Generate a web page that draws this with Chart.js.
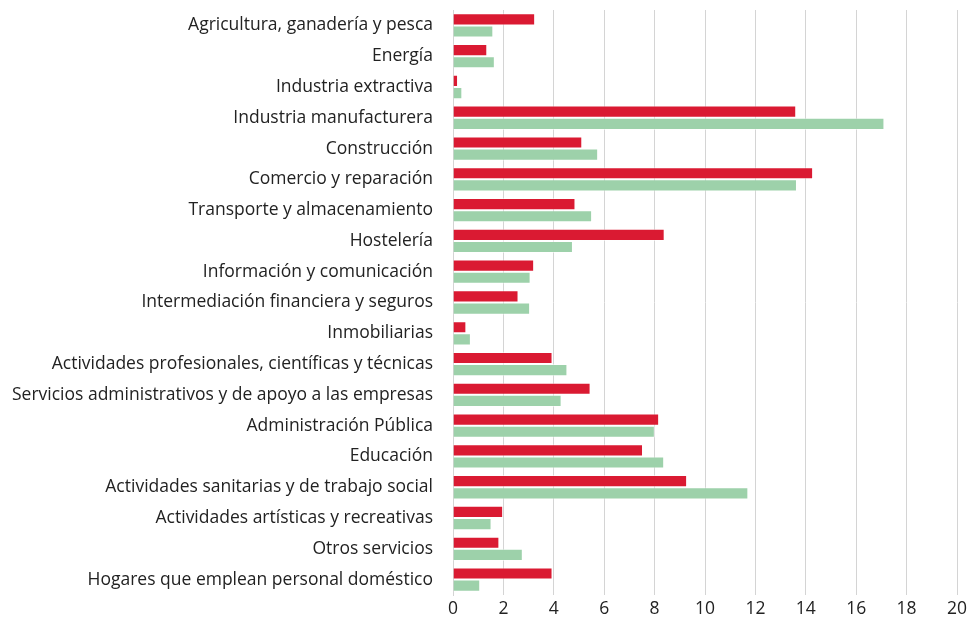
<!DOCTYPE html>
<html>
<head>
<meta charset="utf-8">
<script src="https://cdn.jsdelivr.net/npm/chart.js@4/dist/chart.umd.min.js"></script>
<style>
  html, body { margin: 0; padding: 0; background: #fff; }
  #wrap { width: 967px; height: 632px; }
</style>
</head>
<body>
<div id="wrap"><canvas id="myChart"></canvas></div>
<script>
const categories = [
    'Agricultura, ganadería y pesca',
    'Energía',
    'Industria extractiva',
    'Industria manufacturera',
    'Construcción',
    'Comercio y reparación',
    'Transporte y almacenamiento',
    'Hostelería',
    'Información y comunicación',
    'Intermediación financiera y seguros',
    'Inmobiliarias',
    'Actividades profesionales, científicas y técnicas',
    'Servicios administrativos y de apoyo a las empresas',
    'Administración Pública',
    'Educación',
    'Actividades sanitarias y de trabajo social',
    'Actividades artísticas y recreativas',
    'Otros servicios',
    'Hogares que emplean personal doméstico'
];

// red series (top bar of each pair)
const serieRoja = [3.26, 1.36, 0.20, 13.62, 5.13, 14.29, 4.86, 8.40, 3.22, 2.60, 0.53, 3.95, 5.46, 8.18, 7.54, 9.29, 1.99, 1.84, 3.95];
// green series (bottom bar)
const serieVerde = [1.60, 1.66, 0.37, 17.12, 5.76, 13.65, 5.52, 4.76, 3.08, 3.06, 0.71, 4.54, 4.31, 8.01, 8.38, 11.72, 1.53, 2.77, 1.08];

const xTicks = [0, 2, 4, 6, 8, 10, 12, 14, 16, 18, 20];

const ctx = document.getElementById('myChart');
const fam = '"Open Sans", "Noto Sans", sans-serif';

const myChart = new Chart(ctx, {
    type: 'bar',
    data: {
        labels: categories,
        datasets: [{
            label: 'Serie 1',
            data: serieRoja,
            backgroundColor: '#DA1A32',
            borderColor: 'rgba(255,255,255,0.5)',
            borderWidth: 1,
            barPercentage: 1,
            categoryPercentage: 0.79
        }, {
            label: 'Serie 2',
            data: serieVerde,
            backgroundColor: '#9DD1AA',
            borderColor: 'rgba(255,255,255,0.5)',
            borderWidth: 1,
            barPercentage: 1,
            categoryPercentage: 0.79
        }]
    },
    options: {
        indexAxis: 'y',
        responsive: true,
        maintainAspectRatio: false,
        animation: false,
        layout: { padding: { top: 10, right: 10, left: 0, bottom: 0 } },
        plugins: {
            legend: { display: false },
            tooltip: { enabled: false }
        },
        scales: {
            x: {
                min: 0,
                max: 20,
                afterBuildTicks: (s) => { s.ticks = xTicks.map(v => ({ value: v })); },
                afterFit: (s) => { s.height = 37; s.paddingLeft = 0; s.paddingRight = 0; },
                grid: { color: '#d4d4d4', lineWidth: 1, drawTicks: false },
                border: { display: false },
                ticks: { color: '#222', font: { family: fam, size: 17.5 }, padding: 4 }
            },
            y: {
                afterFit: (s) => { s.width = 453; s.paddingTop = 0; s.paddingBottom = 0; },
                grid: { display: false, drawTicks: false },
                border: { display: true, color: '#d4d4d4' },
                ticks: { color: '#222', font: { family: fam, size: 17.5 }, padding: 20, autoSkip: false }
            }
        }
    }
});
</script>
</body>
</html>
